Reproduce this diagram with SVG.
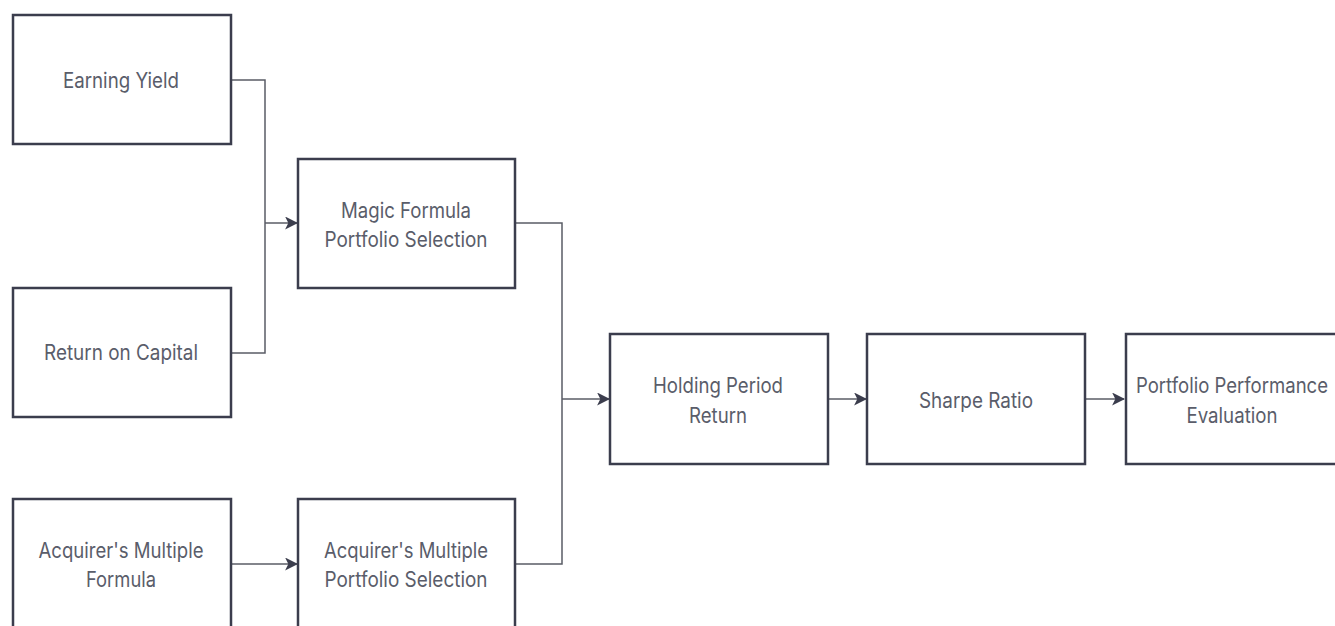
<svg xmlns="http://www.w3.org/2000/svg" width="1335" height="626" viewBox="0 0 1335 626">
<style>
.box{fill:#ffffff;stroke:#3b3d4d;stroke-width:2.5}
.lbl{font-family:Inter,"Liberation Sans",sans-serif;font-size:21px;fill:#5a5d6a;text-anchor:middle}
.edge{fill:none;stroke:#5a5c66;stroke-width:1.5}
</style>
<defs>
<marker id="arr" viewBox="0 0 12 12" refX="11" refY="6" markerWidth="13" markerHeight="13" markerUnits="userSpaceOnUse" orient="auto">
<path d="M0,0 L12,6 L0,12 L3,6 Z" fill="#3b3d4d"/>
</marker>
</defs>
<rect width="1335" height="626" fill="#ffffff"/>
<g id="connectors">
<path class="edge" d="M231,80 H265 V353 H231"/>
<path class="edge" d="M265,223 H297" marker-end="url(#arr)"/>
<path class="edge" d="M231,564 H297" marker-end="url(#arr)"/>
<path class="edge" d="M515,223 H562 V564 H515"/>
<path class="edge" d="M562,399 H609" marker-end="url(#arr)"/>
<path class="edge" d="M828,399 H866" marker-end="url(#arr)"/>
<path class="edge" d="M1085,399 H1124" marker-end="url(#arr)"/>
</g>
<g id="earning-yield">
<rect class="box" x="13" y="15" width="218" height="129"/>
<text class="lbl" x="121" y="88" textLength="116" lengthAdjust="spacingAndGlyphs">Earning Yield</text>
</g>
<g id="return-on-capital">
<rect class="box" x="13" y="288" width="218" height="129"/>
<text class="lbl" x="121" y="360" textLength="154" lengthAdjust="spacingAndGlyphs">Return on Capital</text>
</g>
<g id="acquirers-multiple-formula">
<rect class="box" x="13" y="499" width="218" height="140"/>
<text class="lbl" x="121" y="558" textLength="165" lengthAdjust="spacingAndGlyphs">Acquirer's Multiple</text>
<text class="lbl" x="121" y="587" textLength="70" lengthAdjust="spacingAndGlyphs">Formula</text>
</g>
<g id="magic-formula-portfolio-selection">
<rect class="box" x="298" y="159" width="217" height="129"/>
<text class="lbl" x="406" y="218" textLength="130" lengthAdjust="spacingAndGlyphs">Magic Formula</text>
<text class="lbl" x="406" y="247" textLength="163" lengthAdjust="spacingAndGlyphs">Portfolio Selection</text>
</g>
<g id="acquirers-multiple-portfolio-selection">
<rect class="box" x="298" y="499" width="217" height="140"/>
<text class="lbl" x="406" y="558" textLength="164" lengthAdjust="spacingAndGlyphs">Acquirer's Multiple</text>
<text class="lbl" x="406" y="587" textLength="163" lengthAdjust="spacingAndGlyphs">Portfolio Selection</text>
</g>
<g id="holding-period-return">
<rect class="box" x="610" y="334" width="218" height="130"/>
<text class="lbl" x="718" y="393" textLength="130" lengthAdjust="spacingAndGlyphs">Holding Period</text>
<text class="lbl" x="718" y="423" textLength="58" lengthAdjust="spacingAndGlyphs">Return</text>
</g>
<g id="sharpe-ratio">
<rect class="box" x="867" y="334" width="218" height="130"/>
<text class="lbl" x="976" y="408" textLength="114" lengthAdjust="spacingAndGlyphs">Sharpe Ratio</text>
</g>
<g id="portfolio-performance-evaluation">
<rect class="box" x="1126" y="334" width="218" height="130"/>
<text class="lbl" x="1232" y="393" textLength="192" lengthAdjust="spacingAndGlyphs">Portfolio Performance</text>
<text class="lbl" x="1232" y="423" textLength="91" lengthAdjust="spacingAndGlyphs">Evaluation</text>
</g>
</svg>
